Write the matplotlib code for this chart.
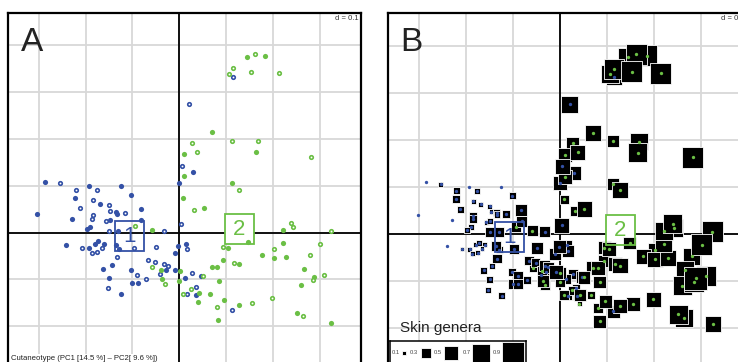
import numpy as np
import matplotlib
matplotlib.use("Agg")
import matplotlib.pyplot as plt
from matplotlib.patches import Rectangle

plt.rcParams['font.family'] = ['Liberation Sans', 'DejaVu Sans']

# ---------------- data ----------------
blue_pc1 = [-0.286, -0.254, -0.193, -0.125, -0.001, 0.029, -0.221, -0.176, -0.222, -0.102,
            -0.185, -0.169, -0.303, -0.212, -0.150, -0.147, -0.135, -0.134, -0.116, -0.082,
            -0.230, -0.185, -0.186, -0.157, -0.148, -0.190, -0.198, -0.081, -0.150, -0.130,
            -0.032, 0.004, 0.114, 0.021, 0.005, -0.241, -0.208, -0.192, -0.179, -0.173,
            -0.160, -0.166, -0.136, -0.097, -0.049, -0.002, -0.129, -0.187, -0.175, -0.134,
            -0.010, -0.066, -0.052, -0.033, -0.025, -0.029, -0.041, -0.008, -0.162, -0.144,
            -0.103, -0.090, -0.150, -0.071, -0.100, -0.089, -0.153, -0.124, 0.014, 0.017,
            0.027, 0.012, 0.046, 0.035, 0.016, 0.036, 0.113]
blue_pc2 = [0.109, 0.105, 0.100, 0.100, 0.107, 0.129, 0.091, 0.090, 0.073, 0.081,
            0.069, 0.062, 0.039, 0.052, 0.058, 0.047, 0.044, 0.040, 0.041, 0.051,
            0.029, 0.038, 0.030, 0.024, 0.026, 0.013, 0.008, 0.026, 0.003, 0.004,
            0.004, 0.018, 0.333, 0.275, 0.143, -0.027, -0.032, -0.033, -0.024, -0.019,
            -0.024, -0.032, -0.026, -0.032, -0.031, -0.028, -0.034, -0.043, -0.041, -0.053,
            -0.043, -0.058, -0.062, -0.068, -0.072, -0.081, -0.089, -0.081, -0.078, -0.070,
            -0.081, -0.090, -0.097, -0.099, -0.108, -0.107, -0.119, -0.132, -0.025, -0.036,
            -0.087, -0.096, -0.092, -0.116, -0.132, -0.133, -0.165]
blue_filled = [1, 0, 1, 1, 1, 1, 0, 0, 1, 1,
               0, 1, 1, 0, 0, 0, 1, 1, 0, 1,
               1, 0, 0, 0, 1, 1, 1, 1, 0, 1,
               0, 0, 0, 0, 0, 1, 0, 1, 1, 1,
               1, 0, 1, 0, 0, 1, 1, 0, 0, 0,
               1, 0, 0, 0, 0, 1, 0, 1, 1, 1,
               1, 0, 1, 0, 1, 1, 0, 1, 1, 0,
               0, 1, 1, 0, 0, 1, 0]
blue_genera = [0, 0.12, 0, 0, 0.53, 0.53, 0.19, 0.16, 0.23, 0.19,
               0.12, 0.12, 0, 0.19, 0.12, 0.12, 0.19, 0.19, 0.23, 0.42,
               0, 0.23, 0.23, 0.12, 0.16, 0.16, 0.16, 0.36, 0.30, 0.30,
               0.36, 0.57, 0.61, 0.66, 0.57, 0, 0.09, 0.12, 0.12, 0.16,
               0.12, 0.12, 0.30, 0.30, 0.42, 0.48, 0.19, 0.12, 0.12, 0.27,
               0.42, 0.27, 0.27, 0.36, 0.36, 0.30, 0.23, 0.53, 0.19, 0.16,
               0.23, 0.30, 0.19, 0.23, 0.30, 0.30, 0.16, 0.19, 0.30, 0.42,
               0.30, 0.30, 0.42, 0.23, 0.23, 0.23, 0.48]

green_pc1 = [0.144, 0.184, 0.162, 0.115, 0.106, 0.153, 0.214, 0.071, 0.027, 0.113,
             0.168, 0.038, 0.165, 0.010, 0.282, 0.010, 0.113, 0.128, 0.009, 0.031,
             0.052, -0.094, -0.059, 0.240, 0.243, 0.222, 0.324, 0.148, 0.221, 0.301,
             0.094, 0.105, 0.203, 0.093, 0.177, 0.202, 0.229, 0.280, 0.118, 0.127,
             0.070, 0.081, 0.266, 0.001, 0.051, 0.000, 0.085, 0.289, 0.310, 0.285,
             0.260, 0.026, 0.008, 0.043, 0.066, 0.096, 0.041, 0.198, 0.155, 0.128,
             0.081, 0.251, 0.264, 0.084, 0.325, -0.058, -0.039, -0.036, -0.031]
green_pc2 = [0.375, 0.378, 0.382, 0.351, 0.339, 0.344, 0.341, 0.214, 0.192, 0.196,
             0.195, 0.173, 0.172, 0.168, 0.162, 0.120, 0.106, 0.092, 0.073, 0.048,
             0.052, 0.014, 0.006, 0.021, 0.011, 0.006, 0.004, -0.020, -0.022, -0.024,
             -0.030, -0.033, -0.035, -0.058, -0.048, -0.055, -0.052, -0.048, -0.065, -0.068,
             -0.073, -0.073, -0.078, -0.083, -0.093, -0.103, -0.103, -0.095, -0.091, -0.102,
             -0.111, -0.121, -0.131, -0.130, -0.131, -0.144, -0.149, -0.140, -0.150, -0.154,
             -0.159, -0.172, -0.179, -0.187, -0.193, -0.074, -0.079, -0.100, -0.110]
green_filled = [1, 1, 0, 0, 0, 0, 0, 1, 0, 0,
                0, 0, 1, 1, 0, 1, 1, 0, 1, 0,
                1, 0, 1, 0, 0, 1, 0, 1, 1, 0,
                0, 1, 0, 1, 1, 1, 1, 0, 0, 1,
                1, 1, 1, 1, 0, 1, 1, 1, 0, 0,
                1, 0, 0, 1, 1, 1, 1, 0, 0, 1,
                0, 1, 0, 1, 1, 0, 1, 1, 0]
green_genera = [0.76, 0.88, 0.88, 0.82, 0.70, 0.88, 0.91, 0.61, 0.48, 0.42,
                0.66, 0.57, 0.76, 0.53, 0.88, 0.53, 0.42, 0.61, 0.27, 0.30,
                0.61, 0.30, 0.36, 0.76, 0.70, 0.70, 0.88, 0.48, 0.66, 0.88,
                0.48, 0.53, 0.57, 0.42, 0.57, 0.61, 0.61, 0.66, 0.53, 0.61,
                0.48, 0.53, 0.70, 0.42, 0.48, 0.30, 0.48, 1.00, 0.82, 0.82,
                0.76, 0.27, 0.30, 0.42, 0.23, 0.48, 0.12, 0.57, 0.53, 0.53,
                0.30, 0.76, 0.70, 0.48, 0.61, 0.23, 0.30, 0.42, 0.30]

class_labels = ['1', '2']
centroid_pc1 = [-0.107, 0.128]
centroid_pc2 = [-0.0075, 0.0075]

legend_values = [0.1, 0.3, 0.5, 0.7, 0.9]
axis_title = 'Cutaneotype (PC1 [14.5 %] \u2013 PC2[ 9.6 %])'

# ---------------- styling ----------------
W, H = 738, 362
BLUE = '#3451A6'
GREEN = '#6BBF45'
GRID = '#D8D8D8'
XLIM = (-0.366, 0.388)
YLIM = (-0.283, 0.470)


def sq_px(v):
    return np.interp(v, [0, 0.1, 0.3, 0.5, 0.7, 0.9, 1.0], [0, 4.3, 10, 13.3, 18, 21.3, 23])


def fig_rect(x0, y0, x1, y1):
    return [x0 / W, 1 - y1 / H, (x1 - x0) / W, (y1 - y0) / H]


fig = plt.figure(figsize=(W / 100, H / 100), dpi=100)
axA = fig.add_axes(fig_rect(8, 12.7, 360.7, 365.0))
axB = fig.add_axes(fig_rect(388, 12.7, 742.4, 366.6))


def setup(ax):
    ax.set_xlim(XLIM)
    ax.set_ylim(YLIM)
    ax.set_xticks(np.round(np.arange(-0.3, 0.39, 0.1), 2))
    ax.set_yticks(np.round(np.arange(-0.2, 0.47, 0.1), 2))
    ax.tick_params(length=0, labelbottom=False, labelleft=False)
    ax.grid(True, color=GRID, lw=1.3)
    ax.set_axisbelow(True)
    ax.axhline(0, color='black', lw=1.3, zorder=1)
    ax.axvline(0, color='black', lw=1.3, zorder=1)
    for s in ax.spines.values():
        s.set_linewidth(1.6)
        s.set_zorder(10)


def class_boxes(ax):
    bw, bh = 0.062, 0.065
    cols = [BLUE, GREEN]
    fills = ['none', 'white']
    for lab, cx, cy, col, fc in zip(class_labels, centroid_pc1, centroid_pc2, cols, fills):
        if fc != 'none':
            ax.add_patch(Rectangle((cx - bw / 2, cy - bh / 2), bw, bh, facecolor=fc,
                                   edgecolor='none', zorder=2))
        ax.add_patch(Rectangle((cx - bw / 2, cy - bh / 2), bw, bh, facecolor='none',
                               edgecolor=col, lw=1.3, zorder=6))
        ax.text(cx, cy, lab, color=col, fontsize=16, ha='center', va='center', zorder=6)


setup(axA)
setup(axB)

# ---- panel A ----
groups = [(blue_pc1, blue_pc2, blue_filled, BLUE), (green_pc1, green_pc2, green_filled, GREEN)]
for p1, p2, fl, col in groups:
    p1 = np.array(p1); p2 = np.array(p2); m = np.array(fl, bool)
    axA.scatter(p1[m], p2[m], s=14, color=col, linewidths=0, zorder=4)
    axA.scatter(p1[~m], p2[~m], s=6.5, facecolors='white', edgecolors=col, linewidths=1.2, zorder=4)
class_boxes(axA)

# ---- panel B ----
all1 = np.array(blue_pc1 + green_pc1)
all2 = np.array(blue_pc2 + green_pc2)
allv = np.array(blue_genera + green_genera)
order = np.argsort(allv, kind='stable')
order = order[allv[order] > 0]
side_pt = sq_px(allv[order]) * 0.72
axB.scatter(all1[order], all2[order], s=side_pt ** 2, marker='s', color='black',
            edgecolors='white', linewidths=0.6, zorder=3)
for p1, p2, fl, col in groups:
    axB.scatter(p1, p2, s=5.8, color=col, linewidths=0, zorder=4)
class_boxes(axB)

# ---- texts ----
fig.text(20.5 / W, 1 - 51 / H, 'A', fontsize=24, va='baseline', color='#222222')
fig.text(400.5 / W, 1 - 51 / H, 'B', fontsize=24, va='baseline', color='#222222')
bb = dict(facecolor='white', edgecolor='none', pad=0.6)
fig.text(358.5 / W, 1 - 20.5 / H, 'd = 0.1', fontsize=5.5, ha='right', va='baseline',
         color='#333333', bbox=bb, zorder=20)
fig.text(721 / W, 1 - 20.5 / H, 'd = 0.1', fontsize=5.5, ha='left', va='baseline',
         color='#333333', bbox=bb, zorder=20)
fig.text(11 / W, 1 - 360.5 / H, axis_title, fontsize=5.6, ha='left', va='baseline',
         color='#222222', bbox=dict(facecolor='white', edgecolor='none', pad=0.8), zorder=20)
fig.text(400 / W, 1 - 331.7 / H, 'Skin genera', fontsize=11, ha='left', va='baseline',
         color='#222222', zorder=20)

# ---- size legend ----
axL = fig.add_axes(fig_rect(390, 340.7, 526, 368))
axL.set_xlim(0, 136)
axL.set_ylim(27.3, 0)
axL.set_xticks([]); axL.set_yticks([])
for s in axL.spines.values():
    s.set_linewidth(1.1)
lab_x = [2, 20, 44, 72.7, 102.7]
sq_x = [14.3, 35.7, 60.7, 91, 123.3]
for v, lx, sx in zip(legend_values, lab_x, sq_x):
    axL.text(lx, 12, f'{v:.1f}', fontsize=4.2, ha='left', va='center', color='#444444')
    axL.scatter([sx], [12], s=(sq_px(v) * 0.72) ** 2, marker='s', color='black',
                edgecolors='white', linewidths=0.6, clip_on=False)

fig.savefig('out.png', dpi=100)
